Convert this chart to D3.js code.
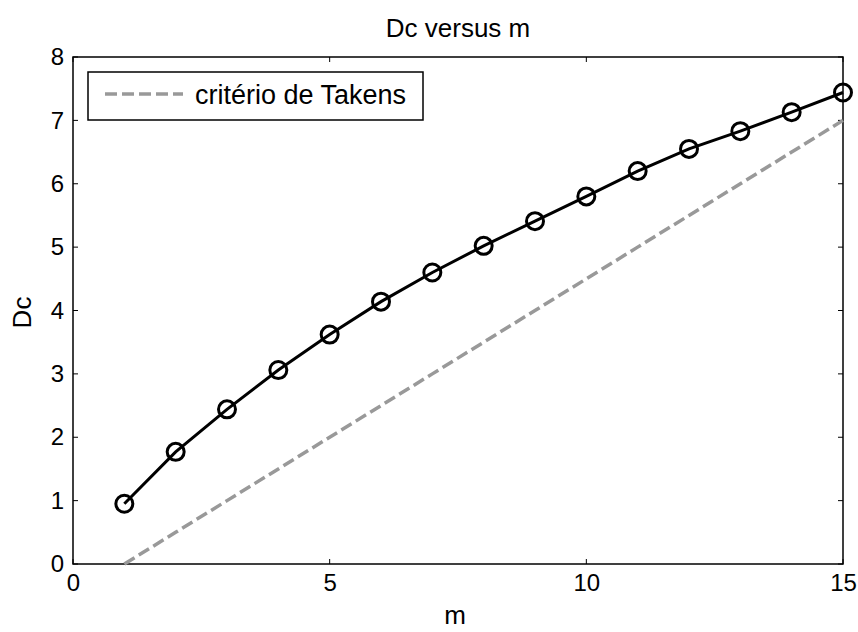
<!DOCTYPE html>
<html>
<head>
<meta charset="utf-8">
<script src="https://cdn.jsdelivr.net/npm/d3@7"></script>
<style>
  body { margin: 0; background: #fff; }
  text { font-family: "Liberation Sans", Arial, sans-serif; fill: #000; }
</style>
</head>
<body>
<div id="chart"></div>
<script>
var w = 858,
    h = 632;

var margin = { top: 57, right: 15, bottom: 68, left: 73 };

// data
var mValues = [1, 2, 3, 4, 5, 6, 7, 8, 9, 10, 11, 12, 13, 14, 15];
var dcValues = [0.95, 1.77, 2.44, 3.06, 3.62, 4.14, 4.60, 5.02, 5.41, 5.80, 6.20, 6.55, 6.83, 7.13, 7.44];
var takensValues = [0, 0.5, 1, 1.5, 2, 2.5, 3, 3.5, 4, 4.5, 5, 5.5, 6, 6.5, 7];

var xTicks = [0, 5, 10, 15];
var yTicks = [0, 1, 2, 3, 4, 5, 6, 7, 8];

var dcData = mValues.map(function(m, i) { return { m: m, v: dcValues[i] } });
var takensData = mValues.map(function(m, i) { return { m: m, v: takensValues[i] } });

var svg = d3.select('#chart')
    .append('svg')
    .attr('width', w)
    .attr('height', h)

var x = d3.scaleLinear().domain([0, 15]).range([margin.left, w - margin.right])
var y = d3.scaleLinear().domain([0, 8]).range([h - margin.bottom, margin.top])

var tickFont = 24;
var labelFont = 26;
var tickLen = 5;

// axes box
svg.append('rect')
    .attr('x', x(0))
    .attr('y', y(8))
    .attr('width', x(15) - x(0))
    .attr('height', y(0) - y(8))
    .attr('fill', 'none')
    .attr('stroke', '#000')
    .attr('stroke-width', 1.5)

var xAxis = d3.axisBottom(x).tickValues(xTicks).tickSize(0).tickPadding(10)
var gx = svg.append('g')
    .attr('transform', 'translate(0,' + y(0) + ')')
    .call(xAxis)
gx.select('.domain').remove()
gx.selectAll('text').attr('font-size', tickFont).attr('font-family', null)

var yAxis = d3.axisLeft(y).tickValues(yTicks).tickSize(0).tickPadding(9)
var gy = svg.append('g')
    .attr('transform', 'translate(' + x(0) + ',0)')
    .call(yAxis)
gy.select('.domain').remove()
gy.selectAll('text').attr('font-size', tickFont).attr('font-family', null)

// inward ticks on all four sides
svg.append('g').selectAll('line')
    .data(xTicks).enter()
    .append('line')
    .attr('x1', function(d) { return x(d) })
    .attr('x2', function(d) { return x(d) })
    .attr('y1', y(0))
    .attr('y2', y(0) - tickLen)
    .attr('stroke', '#000')
svg.append('g').selectAll('line')
    .data(xTicks).enter()
    .append('line')
    .attr('x1', function(d) { return x(d) })
    .attr('x2', function(d) { return x(d) })
    .attr('y1', y(8))
    .attr('y2', y(8) + tickLen)
    .attr('stroke', '#000')
svg.append('g').selectAll('line')
    .data(yTicks).enter()
    .append('line')
    .attr('x1', x(0))
    .attr('x2', x(0) + tickLen)
    .attr('y1', function(d) { return y(d) })
    .attr('y2', function(d) { return y(d) })
    .attr('stroke', '#000')
svg.append('g').selectAll('line')
    .data(yTicks).enter()
    .append('line')
    .attr('x1', x(15))
    .attr('x2', x(15) - tickLen)
    .attr('y1', function(d) { return y(d) })
    .attr('y2', function(d) { return y(d) })
    .attr('stroke', '#000')

var line = d3.line()
    .x(function(d) { return x(d.m) })
    .y(function(d) { return y(d.v) })

// Takens criterion
svg.append('path')
    .datum(takensData)
    .attr('d', line)
    .attr('fill', 'none')
    .attr('stroke', '#999999')
    .attr('stroke-width', 3.5)
    .attr('stroke-dasharray', '12,5')

// Dc curve
svg.append('path')
    .datum(dcData)
    .attr('d', line)
    .attr('fill', 'none')
    .attr('stroke', '#000')
    .attr('stroke-width', 3)

svg.append('g').selectAll('circle')
    .data(dcData).enter()
    .append('circle')
    .attr('cx', function(d) { return x(d.m) })
    .attr('cy', function(d) { return y(d.v) })
    .attr('r', 8.5)
    .attr('fill', 'none')
    .attr('stroke', '#000')
    .attr('stroke-width', 3)

// title and labels
svg.append('text')
    .text('Dc versus m')
    .attr('x', (x(0) + x(15)) / 2)
    .attr('y', 37)
    .attr('text-anchor', 'middle')
    .attr('font-size', labelFont)

svg.append('text')
    .text('m')
    .attr('x', (x(0) + x(15)) / 2 - 3)
    .attr('y', 624)
    .attr('text-anchor', 'middle')
    .attr('font-size', labelFont)

svg.append('text')
    .text('Dc')
    .attr('transform', 'translate(31,' + (y(4) + 2) + ') rotate(-90)')
    .attr('text-anchor', 'middle')
    .attr('font-size', labelFont)

// legend
var legend = svg.append('g')
legend.append('rect')
    .attr('x', 88)
    .attr('y', 72)
    .attr('width', 335)
    .attr('height', 48)
    .attr('fill', '#fff')
    .attr('stroke', '#000')
    .attr('stroke-width', 1.5)
legend.append('line')
    .attr('x1', 105)
    .attr('x2', 183)
    .attr('y1', 94)
    .attr('y2', 94)
    .attr('stroke', '#999999')
    .attr('stroke-width', 3.5)
    .attr('stroke-dasharray', '12,5')
legend.append('text')
    .text('critério de Takens')
    .attr('x', 195)
    .attr('y', 104)
    .attr('font-size', 27)
</script>
</body>
</html>
